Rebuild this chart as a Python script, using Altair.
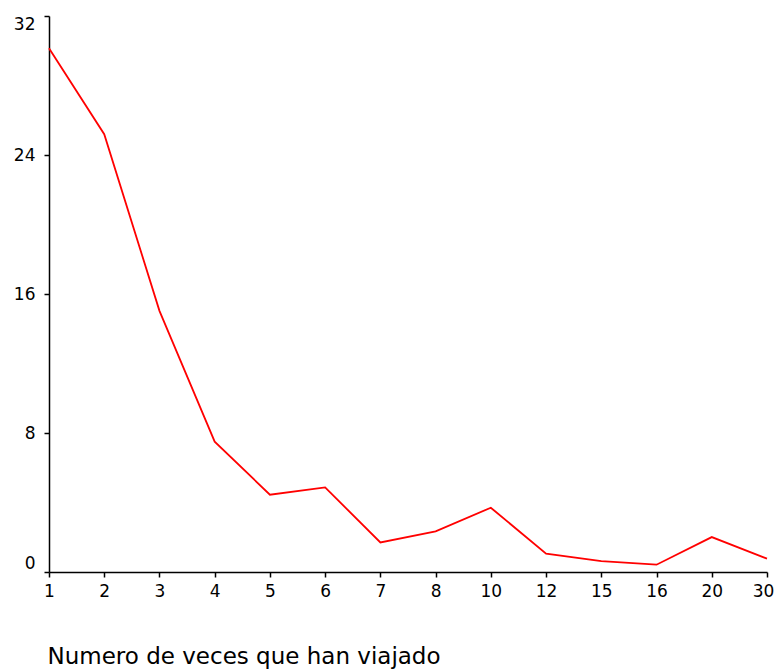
import altair as alt
import pandas as pd

veces = ["1", "2", "3", "4", "5", "6", "7", "8", "10", "12", "15", "16", "20", "30"]
valores = [30.15, 25.2, 15.03, 7.5, 4.45, 4.87, 1.70, 2.34, 3.70, 1.05, 0.63, 0.42, 2.01, 0.77]
y_ticks = [0, 8, 16, 24, 32]

df = pd.DataFrame({"veces": veces, "valor": valores})

font = "DejaVu Sans"

chart = alt.Chart(df).mark_line(color="#ff0000", strokeWidth=1.8).encode(
    x=alt.X(
        "veces:O",
        sort=veces,
        scale=alt.Scale(type="point", padding=0),
        axis=alt.Axis(
            title="Numero de veces que han viajado",
            titleFont=font,
            titleFontSize=23,
            titleFontWeight="normal",
            titleColor="black",
            titleAnchor="start",
            titleAlign="left",
            titleBaseline="alphabetic",
            titleX=-2,
            titleY=91,
            labelFont=font,
            labelFontSize=17,
            labelColor="black",
            labelAngle=0,
            labelPadding=6,
            labelOffset={"condition": {"test": "datum.value === '30'", "value": -4}, "value": 0},
            tickSize=5,
            tickColor="black",
            tickWidth=1.5,
            domainColor="black",
            domainWidth=1.5,
            grid=False,
        ),
    ),
    y=alt.Y(
        "valor:Q",
        scale=alt.Scale(domain=[0, 32], nice=False, zero=True),
        axis=alt.Axis(
            title=None,
            values=y_ticks,
            labelFont=font,
            labelFontSize=17,
            labelColor="black",
            labelFlush=True,
            labelPadding=9,
            tickSize=5,
            tickColor="black",
            tickWidth=1.5,
            domainColor="black",
            domainWidth=1.5,
            grid=False,
        ),
    ),
).properties(
    width=718,
    height=556,
    autosize=alt.AutoSizeParams(type="none"),
    padding={"left": 41, "top": 8, "right": 7, "bottom": 98},
).configure(background="white").configure_view(stroke=None)

chart.save("out.html", embed_options={"renderer": "svg", "actions": False})
